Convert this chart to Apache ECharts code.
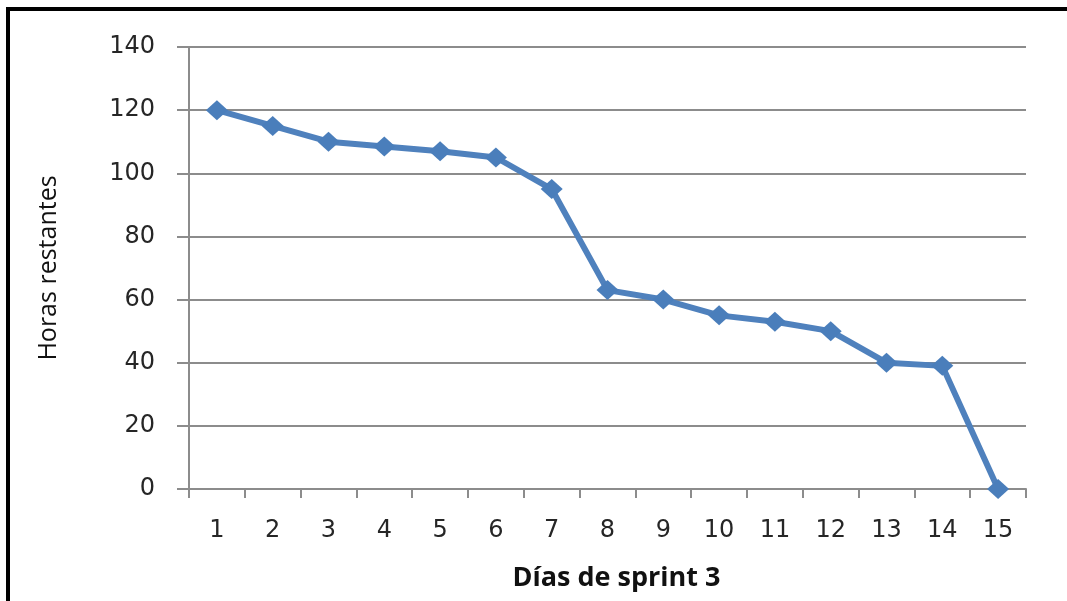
<!DOCTYPE html>
<html>
<head>
<meta charset="utf-8">
<script src="https://cdn.jsdelivr.net/npm/echarts@6/dist/echarts.min.js"></script>
<style>
  html, body { margin: 0; padding: 0; background: #fff; }
  #chart { width: 1067px; height: 601px; }
</style>
</head>
<body>
<div id="chart"></div>
<script>
// Sprint 3 burndown: remaining hours per day
const days = ['1','2','3','4','5','6','7','8','9','10','11','12','13','14','15'];
const remainingHours = [120, 115, 110, 108.5, 107, 105, 95, 63, 60, 55, 53, 50, 40, 39, 0];
const yTicks = { min: 0, max: 140, interval: 20 };

const chart = echarts.init(document.getElementById('chart'));
const axisGray = '#8c8c8c';

chart.setOption({
  backgroundColor: '#ffffff',
  animation: false,
  graphic: [
    // frame: top and left edges
    { type: 'rect', shape: { x: 6, y: 7, width: 1061, height: 4 }, style: { fill: '#000' } },
    { type: 'rect', shape: { x: 6, y: 7, width: 4, height: 594 }, style: { fill: '#000' } }
  ],
  grid: { left: 189, right: 41, top: 47, bottom: 112 },
  xAxis: {
    type: 'category',
    data: days,
    boundaryGap: true,
    name: 'Días de sprint 3',
    nameLocation: 'middle',
    nameGap: 76,
    nameTextStyle: { fontFamily: 'Open Sans', fontWeight: 'bold', fontSize: 27, color: '#111', padding: [0, 0, 0, 18] },
    axisLine: { lineStyle: { color: axisGray, width: 2 } },
    axisTick: { show: true, alignWithLabel: false, length: 9, lineStyle: { color: axisGray, width: 2 } },
    axisLabel: { fontFamily: 'DejaVu Sans', fontSize: 24, color: '#262626', margin: 30 },
    splitLine: { show: false }
  },
  yAxis: {
    type: 'value',
    min: yTicks.min,
    max: yTicks.max,
    interval: yTicks.interval,
    name: 'Horas restantes',
    nameLocation: 'middle',
    nameRotate: 90,
    nameGap: 128,
    nameTextStyle: { fontFamily: 'Open Sans', fontSize: 25, color: '#111' },
    axisLine: { show: true, lineStyle: { color: axisGray, width: 2 } },
    axisTick: { show: true, length: 12, lineStyle: { color: axisGray, width: 2 } },
    axisLabel: { fontFamily: 'DejaVu Sans', fontSize: 24, color: '#262626', margin: 34 },
    splitLine: { show: true, lineStyle: { color: axisGray, width: 2 } }
  },
  series: [{
    type: 'line',
    data: remainingHours,
    symbol: 'diamond',
    symbolSize: [22, 20],
    showAllSymbol: true,
    lineStyle: { color: '#4f81bd', width: 6 },
    itemStyle: { color: '#4a7ebb' },
    z: 5
  }]
});
</script>
</body>
</html>
